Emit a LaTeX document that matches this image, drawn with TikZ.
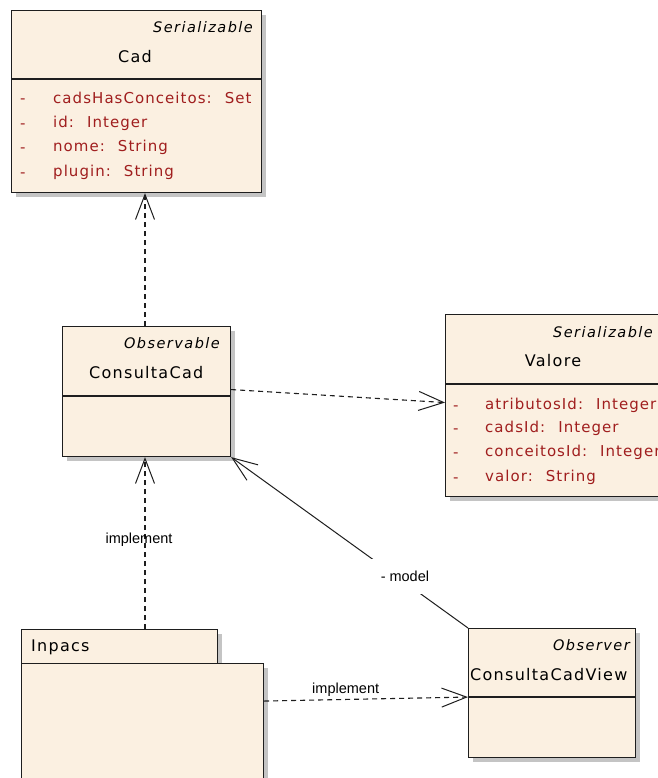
\documentclass[tikz,border=0pt]{standalone}
\usepackage{fontspec}
\usetikzlibrary{arrows.meta,shadows}
\newfontfamily\umlfont[LetterSpace=8]{DejaVu Sans}
\newfontfamily\attrfont[LetterSpace=7]{DejaVu Sans}
\newfontfamily\stereofont[LetterSpace=10]{DejaVu Sans}
\newfontfamily\lblfont{Liberation Sans}
\definecolor{classfill}{HTML}{FBF0E1}
\definecolor{attrred}{HTML}{A01E1E}
\definecolor{edgecol}{HTML}{1E1E1E}
\definecolor{shade}{HTML}{C4C4C4}
% gap between an attribute name and its type
\newcommand{\typegap}{\hspace{13pt}}

\begin{document}
\begin{tikzpicture}[x=1pt,y=-1pt,
  classbox/.style={draw=edgecol, line width=1.1pt, fill=classfill, inner sep=0pt,
    anchor=north west,
    drop shadow={shadow xshift=4pt, shadow yshift=-4pt, opacity=1, fill=shade}},
  stereo/.style={font=\stereofont\itshape\fontsize{14.5}{16}\selectfont, anchor=east, inner sep=0pt},
  title/.style={font=\umlfont\fontsize{16}{18}\selectfont, inner sep=0pt},
  attr/.style={font=\attrfont\fontsize{15}{17}\selectfont, text=attrred, anchor=west, inner sep=0pt},
  vis/.style={attr, yshift=-3pt},
  lbl/.style={font=\lblfont\fontsize{14.5}{16}\selectfont, inner sep=1pt},
  dep/.style={draw=edgecol, line width=1.1pt, dash pattern=on 5pt off 4pt,
    -{Straight Barb[length=25pt,width=19pt,line width=1pt]}},
  assoc/.style={draw=edgecol, line width=1pt,
    -{Straight Barb[length=25pt,width=19pt,line width=1pt]}},
  divider/.style={draw=edgecol, line width=1.1pt}
]
\useasboundingbox[fill=white] (0,0) rectangle (657,778);

% ---- class Cad ----
\node[classbox, minimum width=250, minimum height=182] (cad) at (11,10) {};
\draw[divider] (11,79) -- (261,79);
\node[stereo] (cadst) at (253,27) {Serializable};
\node[title] (cadtt) at (135,57) {Cad};
\node[vis] (cadv1) at (20,98) {-};
\node[attr] (cada1) at (53,98) {cadsHasConceitos:\typegap Set};
\node[vis] (cadv2) at (20,123) {-};
\node[attr] (cada2) at (53,123) {id:\typegap Integer};
\node[vis] (cadv3) at (20,147) {-};
\node[attr] (cada3) at (53,147) {nome:\typegap String};
\node[vis] (cadv4) at (20,172) {-};
\node[attr] (cada4) at (53,172) {plugin:\typegap String};

% ---- class ConsultaCad ----
\node[classbox, minimum width=168, minimum height=130] (cc) at (62,326) {};
\draw[divider] (62,396) -- (230,396);
\node[stereo] (ccst) at (220,343) {Observable};
\node[title, anchor=west] (cctt) at (89,373) {ConsultaCad};

% ---- class Valore ----
\node[classbox, minimum width=240, minimum height=182] (val) at (445,314) {};
\draw[divider] (445,384) -- (685,384);
\node[stereo] (valst) at (653,332) {Serializable};
\node[title] (valtt) at (553,361) {Valore};
\node[vis] (valv1) at (453,405) {-};
\node[attr] (vala1) at (485,405) {atributosId:\typegap Integer};
\node[vis] (valv2) at (453,428) {-};
\node[attr] (vala2) at (485,428) {cadsId:\typegap Integer};
\node[vis] (valv3) at (453,452) {-};
\node[attr] (vala3) at (485,452) {conceitosId:\typegap Integer};
\node[vis] (valv4) at (453,477) {-};
\node[attr] (vala4) at (485,477) {valor:\typegap String};

% ---- class ConsultaCadView ----
\node[classbox, minimum width=167, minimum height=129] (ccv) at (468,628) {};
\draw[divider] (468,697) -- (635,697);
\node[stereo] (ccvst) at (630,645) {Observer};
\node[title, anchor=west] (ccvtt) at (470,675) {ConsultaCadView};

% ---- package Inpacs ----
\node[classbox, minimum width=196, minimum height=34] (pkgtab) at (21,629) {};
\node[classbox, minimum width=242, minimum height=127] (pkg) at (21,663) {};
\node[title, anchor=west] (pkgtt) at (31,647) {Inpacs};

% ---- connectors ----
\draw[dep] (cc.north -| 145,0) -- (cad.south -| 145,0);
\draw[dep] ([yshift=2pt]cc.east) -- ([yshift=3pt]val.west);
\draw[dep] (pkgtab.north -| 145,0) -- (cc.south -| 145,0)
  node[lbl, pos=0.52, xshift=-6pt] (impl1) {implement};
\draw[assoc] (ccv.north west) -- (cc.south east)
  node[lbl, fill=white, pos=0.3, xshift=8pt, inner xsep=14pt, inner ysep=12pt] (model) {- model};
\draw[dep] ([yshift=26pt]pkg.east) -- ([yshift=-4pt]ccv.west)
  node[lbl, pos=0.4, above=1pt] (impl2) {implement};
\end{tikzpicture}
\end{document}
